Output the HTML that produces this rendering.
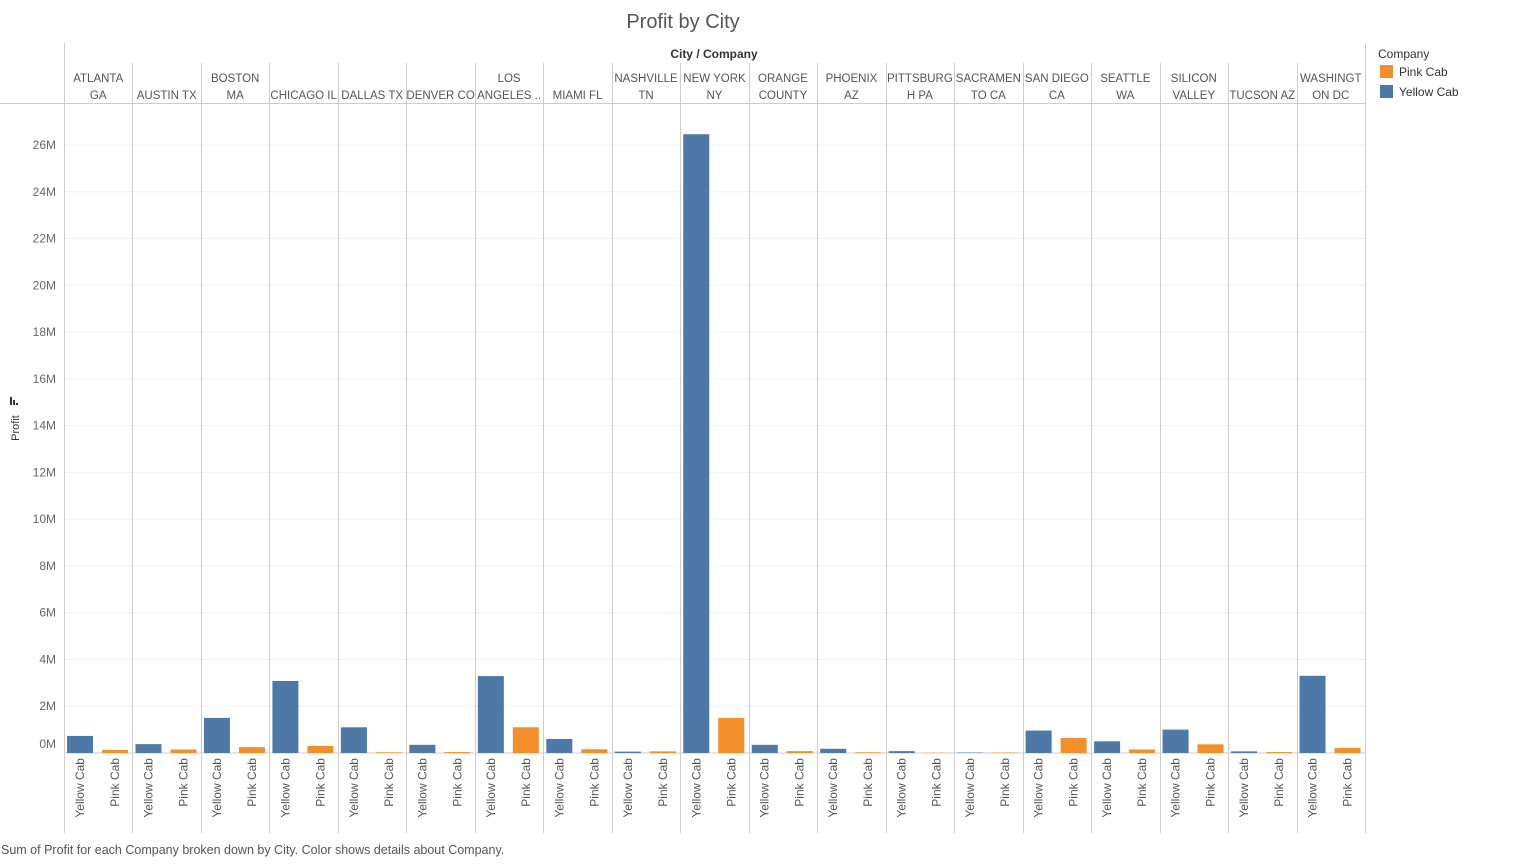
<!DOCTYPE html>
<html><head><meta charset="utf-8">
<style>
body{margin:0;background:#fff;font-family:"Liberation Sans",sans-serif;}
svg text{font-family:"Liberation Sans",sans-serif;}
</style></head>
<body>
<svg id="chart" width="1517" height="859" xmlns="http://www.w3.org/2000/svg">
<text x="683" y="28" text-anchor="middle" font-size="20" fill="#555">Profit by City</text>
<text x="714" y="58" text-anchor="middle" font-size="12" font-weight="bold" fill="#333">City / Company</text>
<g id="grid"></g><g id="bars"></g><g id="heads"></g><g id="xlabels"></g><g id="yticks"></g>
<g><text x="19" y="428" transform="rotate(-90 19 428)" text-anchor="middle" font-size="11" fill="#333">Profit</text>
<rect x="10" y="397" width="2" height="8" fill="#333"/><rect x="13" y="400" width="2" height="5" fill="#333"/><rect x="16" y="403" width="2" height="2" fill="#333"/></g>
<g>
<text x="1378" y="58" font-size="12" fill="#333">Company</text>
<rect x="1380" y="65" width="13" height="13" fill="#f28e2b"/>
<text x="1399" y="76" font-size="12" fill="#333">Pink Cab</text>
<rect x="1380" y="85" width="13" height="13" fill="#4e79a7"/>
<text x="1399" y="96" font-size="12" fill="#333">Yellow Cab</text>
</g>
<text x="1" y="854" font-size="12.5" fill="#555">Sum of Profit for each Company broken down by City.  Color shows details about Company.</text>
</svg>
<script>
const cities=[["ATLANTA","GA"],["","AUSTIN TX"],["BOSTON","MA"],["","CHICAGO IL"],["","DALLAS TX"],["","DENVER CO"],["LOS","ANGELES .."],["","MIAMI FL"],["NASHVILLE","TN"],["NEW YORK","NY"],["ORANGE","COUNTY"],["PHOENIX","AZ"],["PITTSBURG","H PA"],["SACRAMEN","TO CA"],["SAN DIEGO","CA"],["SEATTLE","WA"],["SILICON","VALLEY"],["","TUCSON AZ"],["WASHINGT","ON DC"]];
const yellow=[0.73,0.38,1.5,3.08,1.1,0.35,3.29,0.6,0.06,26.46,0.35,0.18,0.08,0.02,0.96,0.5,1.0,0.07,3.3];
const pink=[0.13,0.15,0.25,0.3,0.03,0.04,1.1,0.16,0.07,1.5,0.08,0.03,0.01,0.02,0.64,0.15,0.37,0.04,0.22];
const yTicks=[0,2,4,6,8,10,12,14,16,18,20,22,24,26];
const NS="http://www.w3.org/2000/svg";
const x0=64,x1=1365,colW=(x1-x0)/cities.length;
const y=v=>753-v*(753-145)/26;
function mk(t,a,p){const e=document.createElementNS(NS,t);for(const k in a)e.setAttribute(k,a[k]);document.getElementById(p).appendChild(e);return e;}
let e=mk("line",{x1:0,x2:1365,y1:103.5,y2:103.5,stroke:"#ccc"},"grid");


yTicks.forEach(t=>{
 const g=mk("line",{x1:x0,x2:x1,y1:y(t),y2:y(t),stroke:t===0?"#ccc":"#f0f0f0"},"grid");
 
 
 const tx=mk("text",{x:56,y:(t===0?y(t)-5:y(t)+4),"text-anchor":"end","font-size":12,fill:"#666"},"yticks");
 tx.textContent=t+"M";
 
 
});
for(let i=0;i<=cities.length;i++){
 const xx=Math.round(x0+i*colW)+0.5;
 const top=(i===0||i===cities.length)?43:63;
 const l=mk("line",{x1:xx,x2:xx,y1:top,y2:833,stroke:"#ccc"},"grid");
 
 
}
cities.forEach((c,i)=>{
 const cx=x0+i*colW+colW/2;
 c.forEach((s,j)=>{if(!s)return;
  const t=mk("text",{x:cx,y:82+j*17,"text-anchor":"middle","font-size":11.5,fill:"#555"},"heads");
  t.textContent=s;
  
  
 });
 const bx=x0+i*colW;
 const by=mk("rect",{x:bx+3,y:y(yellow[i]),width:26,height:753-y(yellow[i]),fill:"#4e79a7"},"bars");
 
 
 const bp=mk("rect",{x:bx+38,y:y(pink[i]),width:26,height:753-y(pink[i]),fill:"#f28e2b"},"bars");
 
 
 [["Yellow Cab",bx+16],["Pink Cab",bx+51]].forEach(([s,lx])=>{
  const t=mk("text",{x:lx+4,y:758,transform:`rotate(-90 ${lx+4} 758)`,"text-anchor":"end","font-size":12,fill:"#555"},"xlabels");
  t.textContent=s;
  
  
 });
});
</script>
</body></html>
